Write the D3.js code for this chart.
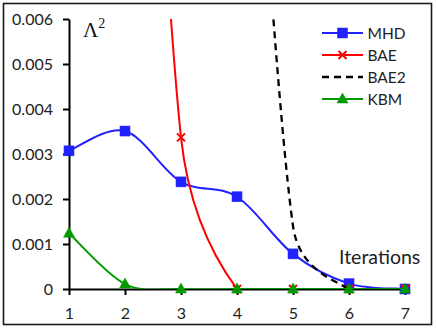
<!DOCTYPE html>
<html>
<head>
<meta charset="utf-8">
<script src="https://cdn.jsdelivr.net/npm/d3@7"></script>
<style>
  html, body { margin: 0; padding: 0; background: #fff; }
  svg { display: block; }
</style>
</head>
<body>
<svg id="chart" width="436" height="330"></svg>
<script>
// ---- data ----
const iterations = [1, 2, 3, 4, 5, 6, 7];
const MHD  = [0.00307, 0.00351, 0.00238, 0.00205, 0.00078, 0.00012, 0.0];
const BAE  = [null, 0.0235, 0.00337, 0.0, 0.0, 0.0, 0.0];
const BAE2 = [null, null, null, 0.0177, 0.0014, 0.0, 0.0];
const KBM  = [0.00124, 0.00011, 0.0, 0.0, 0.0, 0.0, 0.0];
const seriesNames = ["MHD", "BAE", "BAE2", "KBM"];
const yTicks = [0, 0.001, 0.002, 0.003, 0.004, 0.005, 0.006];
const yTickLabels = ["0", "0.001", "0.002", "0.003", "0.004", "0.005", "0.006"];
const xTickLabels = ["1", "2", "3", "4", "5", "6", "7"];

const svg = d3.select("#chart");
const x = d3.scaleLinear().domain([1, 7]).range([69, 405]);
const y = d3.scaleLinear().domain([0, 0.006]).range([289, 19]);

// Excel-like smoothing curve (Catmull-Rom bezier with capped control points)
function excelSmooth(context) {
  let pts;
  const dist = (a, b) => Math.hypot(b[0] - a[0], b[1] - a[1]);
  return {
    areaStart() {}, areaEnd() {},
    lineStart() { pts = []; },
    point(px, py) { pts.push([+px, +py]); },
    lineEnd() {
      const n = pts.length;
      if (!n) return;
      context.moveTo(pts[0][0], pts[0][1]);
      if (n === 1) return;
      if (n === 2) { context.lineTo(pts[1][0], pts[1][1]); return; }
      for (let i = 0; i < n - 1; i++) {
        const p0 = pts[Math.max(0, i - 1)], p1 = pts[i], p2 = pts[i + 1], p3 = pts[Math.min(n - 1, i + 2)];
        const d12 = dist(p1, p2), d02 = dist(p0, p2), d13 = dist(p1, p3);
        let f1 = 1 / 6, f2 = 1 / 6;
        if (d02 > 0 && d02 / 6 > d12 / 2) f1 = d12 / d02 / 2;
        if (d13 > 0 && d13 / 6 > d12 / 2) f2 = d12 / d13 / 2;
        context.bezierCurveTo(
          p1[0] + f1 * (p2[0] - p0[0]), p1[1] + f1 * (p2[1] - p0[1]),
          p2[0] - f2 * (p3[0] - p1[0]), p2[1] - f2 * (p3[1] - p1[1]),
          p2[0], p2[1]);
      }
    }
  };
}

// outer border
svg.append("rect").attr("x", 3.5).attr("y", 3.5).attr("width", 428).attr("height", 321)
  .attr("fill", "#fff").attr("stroke", "#1a1a1a").attr("stroke-width", 1.6);

// clip for plot area (vertical)
svg.append("defs").append("clipPath").attr("id", "plotclip")
  .append("rect").attr("x", 40).attr("y", y(0.006)).attr("width", 390).attr("height", y(0) - y(0.006));

// axes
const yAxis = d3.axisLeft(y).tickValues(yTicks).tickFormat((d, i) => yTickLabels[i])
  .tickSize(6).tickSizeOuter(0).tickPadding(10);
const xAxis = d3.axisBottom(x).tickValues(iterations).tickFormat((d, i) => xTickLabels[i])
  .tickSize(6).tickSizeOuter(0).tickPadding(13);

const gx = svg.append("g").attr("transform", `translate(0,${y(0)})`).call(xAxis);
const gy = svg.append("g").attr("transform", `translate(${x(1)},0)`).call(yAxis);
[gx, gy].forEach(g => {
  g.select(".domain").attr("stroke", "#000").attr("stroke-width", 2);
  g.selectAll(".tick line").attr("stroke", "#000").attr("stroke-width", 2);
  g.selectAll(".tick text").attr("fill", "#222")
    .style("font-family", "Lato, 'Open Sans', sans-serif").style("font-size", "16px");
});

// series
const series = [
  { name: "MHD", values: MHD, color: "#2222ff", marker: "square", dash: null, width: 2 },
  { name: "BAE", values: BAE, color: "#ff0000", marker: "cross", dash: null, width: 2 },
  { name: "BAE2", values: BAE2, color: "#000000", marker: null, dash: "7,5", width: 2.3 },
  { name: "KBM", values: KBM, color: "#009a00", marker: "triangle", dash: null, width: 2 }
];

const line = d3.line()
  .defined(d => d.v !== null)
  .x(d => x(d.it)).y(d => y(d.v))
  .curve(excelSmooth);

function drawMarker(g, type, cx, cy, color) {
  if (type === "square") {
    g.append("rect").attr("x", cx - 5).attr("y", cy - 5).attr("width", 10).attr("height", 10)
      .attr("fill", color).attr("stroke", color).attr("stroke-width", 0.5);
  } else if (type === "cross") {
    const s = 4;
    g.append("path").attr("d", `M${cx - s},${cy - s}L${cx + s},${cy + s}M${cx - s},${cy + s}L${cx + s},${cy - s}`)
      .attr("stroke", color).attr("stroke-width", 2).attr("fill", "none");
  } else if (type === "triangle") {
    g.append("path").attr("d", `M${cx},${cy - 6}L${cx + 5.5},${cy + 4}L${cx - 5.5},${cy + 4}Z`)
      .attr("fill", color).attr("stroke", color).attr("stroke-width", 0.5);
  }
}

series.forEach(s => {
  const data = iterations.map((it, i) => ({ it, v: s.values[i] }));
  const g = svg.append("g");
  g.append("path").datum(data)
    .attr("clip-path", "url(#plotclip)")
    .attr("d", line)
    .attr("fill", "none").attr("stroke", s.color).attr("stroke-width", s.width)
    .attr("stroke-dasharray", s.dash);
  if (s.marker) {
    data.filter(d => d.v !== null && d.v <= 0.006).forEach(d => drawMarker(g, s.marker, x(d.it), y(d.v), s.color));
  }
});

// legend
const legend = svg.append("g");
series.forEach((s, i) => {
  const ly = 33 + i * 22;
  legend.append("line").attr("x1", 322).attr("x2", 363).attr("y1", ly).attr("y2", ly)
    .attr("stroke", s.color).attr("stroke-width", s.width).attr("stroke-dasharray", s.dash);
  if (s.marker) drawMarker(legend, s.marker, 342.5, ly, s.color);
  legend.append("text").attr("x", 367.5).attr("y", ly).attr("dy", "0.36em")
    .attr("fill", "#222")
    .style("font-family", "Lato, 'Open Sans', sans-serif").style("font-size", "15.5px")
    .text(seriesNames[i]);
});

// axis titles
const lam = svg.append("text").attr("x", 83).attr("y", 37)
  .style("font-family", "'Liberation Serif', 'Times New Roman', serif").style("font-size", "21px").attr("fill", "#111");
lam.append("tspan").text("Λ");
lam.append("tspan").attr("dy", -9).style("font-size", "14px").text("2");

svg.append("text").attr("x", 339).attr("y", 264)
  .style("font-family", "Lato, 'Open Sans', sans-serif").style("font-size", "19.5px").attr("fill", "#222")
  .text("Iterations");
</script>
</body>
</html>
